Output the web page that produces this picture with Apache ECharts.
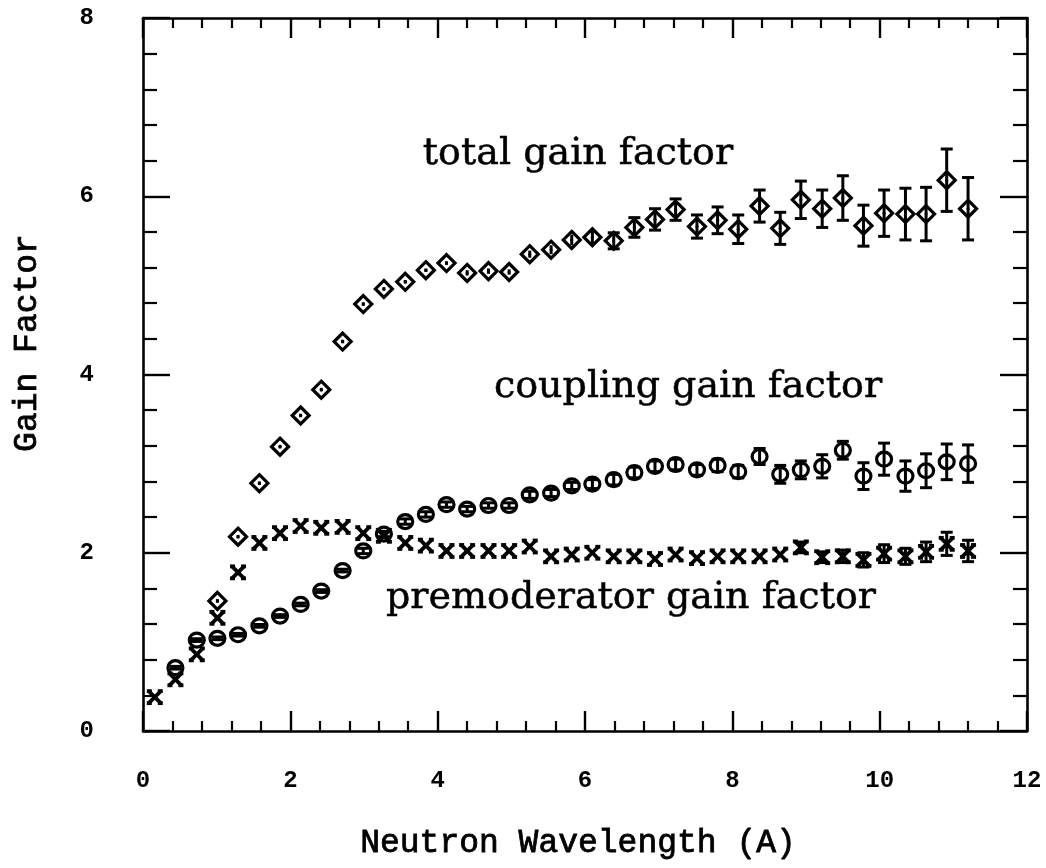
<!DOCTYPE html>
<html>
<head>
<meta charset="utf-8">
<title>Gain Factor</title>
<script src="https://cdn.jsdelivr.net/npm/echarts@6.0.0/dist/echarts.min.js"></script>
<style>
  html, body { margin: 0; padding: 0; background: #fff; }
  #main { width: 1046px; height: 868px; }
</style>
</head>
<body>
<div id="main"></div>
<script>
// wavelength bins (A)
const wavelength = [0.16, 0.44, 0.73, 1.01, 1.29, 1.58, 1.86, 2.14, 2.42, 2.71,
  2.99, 3.27, 3.56, 3.84, 4.12, 4.40, 4.69, 4.97, 5.25, 5.54,
  5.82, 6.10, 6.39, 6.67, 6.95, 7.23, 7.52, 7.80, 8.08, 8.37,
  8.65, 8.93, 9.22, 9.50, 9.78, 10.06, 10.35, 10.63, 10.91, 11.20];

const premodGain = [0.38, 0.58, 0.86, 1.27, 1.78, 2.11, 2.22, 2.30, 2.28, 2.29,
  2.22, 2.19, 2.11, 2.08, 2.02, 2.02, 2.02, 2.02, 2.07, 1.96,
  1.98, 2.00, 1.96, 1.96, 1.93, 1.98, 1.94, 1.96, 1.96, 1.96,
  1.98, 2.06, 1.95, 1.96, 1.92, 1.99, 1.96, 2.01, 2.10, 2.02];
const premodErr = [0, 0, 0, 0, 0, 0, 0, 0, 0, 0,
  0, 0, 0, 0, 0, 0, 0, 0, 0, 0,
  0, 0.02, 0.02, 0.02, 0.02, 0.02, 0.02, 0.02, 0.02, 0.02,
  0.03, 0.06, 0.06, 0.07, 0.08, 0.10, 0.09, 0.11, 0.13, 0.12];

const couplingGain = [null, 0.71, 1.02, 1.04, 1.08, 1.18, 1.29, 1.42, 1.57, 1.80,
  2.02, 2.21, 2.35, 2.43, 2.54, 2.49, 2.53, 2.53, 2.65, 2.67,
  2.75, 2.77, 2.82, 2.90, 2.97, 2.99, 2.93, 2.98, 2.91, 3.08,
  2.88, 2.93, 2.97, 3.15, 2.86, 3.05, 2.86, 2.92, 3.02, 3.00];
const couplingErr = [0, 0.015, 0.015, 0.015, 0.015, 0.015, 0.015, 0.015, 0.015, 0.015,
  0.03, 0.03, 0.03, 0.03, 0.03, 0.03, 0.03, 0.03, 0.04, 0.04,
  0.04, 0.05, 0.06, 0.06, 0.06, 0.06, 0.06, 0.07, 0.07, 0.09,
  0.10, 0.10, 0.13, 0.10, 0.15, 0.18, 0.17, 0.19, 0.20, 0.21];

const totalGain = [null, null, null, 1.46, 2.18, 2.78, 3.19, 3.54, 3.83, 4.37,
  4.79, 4.96, 5.04, 5.17, 5.25, 5.14, 5.16, 5.15, 5.35, 5.40,
  5.51, 5.54, 5.50, 5.65, 5.74, 5.85, 5.66, 5.73, 5.63, 5.89,
  5.64, 5.96, 5.86, 5.98, 5.67, 5.81, 5.80, 5.80, 6.18, 5.86];
const totalErr = [0, 0, 0, 0.02, 0.02, 0.02, 0.02, 0.02, 0.02, 0.02,
  0.02, 0.02, 0.02, 0.02, 0.02, 0.03, 0.03, 0.03, 0.04, 0.05,
  0.06, 0.07, 0.09, 0.11, 0.12, 0.12, 0.13, 0.15, 0.16, 0.18,
  0.18, 0.21, 0.21, 0.25, 0.23, 0.26, 0.29, 0.30, 0.35, 0.35];

const xTickLabels = ['0', '2', '4', '6', '8', '10', '12'];
const yTickLabels = ['0', '2', '4', '6', '8'];

const chart = echarts.init(document.getElementById('main'));

const ink = '#000';

// marker drawing, error bar goes first so it shows through the open symbol
function markerShapes(shape, c) {
  const st = { stroke: ink, lineWidth: 3.2, fill: null };
  const x = c[0], y = c[1];
  if (shape === 'diamond') {
    return [
      { type: 'polygon', shape: { points: [[x, y - 8.5], [x + 8.5, y], [x, y + 8.5], [x - 8.5, y]] }, style: st },
      { type: 'circle', shape: { cx: x, cy: y, r: 1.5 }, style: { fill: ink } }
    ];
  }
  if (shape === 'circle') {
    return [{ type: 'ellipse', shape: { cx: x, cy: y, rx: 7.5, ry: 7 }, style: st }];
  }
  const s = 6;
  const bold = { stroke: ink, lineWidth: 3.8 };
  return [
    { type: 'line', shape: { x1: x - s, y1: y - s, x2: x + s, y2: y + s }, style: bold },
    { type: 'line', shape: { x1: x - s, y1: y + s, x2: x + s, y2: y - s }, style: bold },
    { type: 'line', shape: { x1: x - s - 2, y1: y - s, x2: x - s + 3, y2: y - s }, style: bold },
    { type: 'line', shape: { x1: x + s - 3, y1: y - s, x2: x + s + 2, y2: y - s }, style: bold },
    { type: 'line', shape: { x1: x - s - 2, y1: y + s, x2: x - s + 3, y2: y + s }, style: bold },
    { type: 'line', shape: { x1: x + s - 3, y1: y + s, x2: x + s + 2, y2: y + s }, style: bold }
  ];
}

function gainSeries(name, values, errs, shape, capMin) {
  const data = [];
  values.forEach((v, i) => {
    if (v != null) data.push([wavelength[i], v, errs[i]]);
  });
  return {
    type: 'custom',
    name: name,
    data: data,
    encode: { x: 0, y: 1 },
    renderItem: function (params, api) {
      const xv = api.value(0), yv = api.value(1), e = api.value(2);
      const c = api.coord([xv, yv]);
      const hi = api.coord([xv, yv + e]);
      const lo = api.coord([xv, yv - e]);
      const kids = [];
      const bar = { stroke: ink, lineWidth: 3 };
      if (e > 0) {
        kids.push({ type: 'line', shape: { x1: c[0], y1: hi[1], x2: c[0], y2: lo[1] }, style: bar });
        if (c[1] - hi[1] >= capMin) {
          kids.push({ type: 'line', shape: { x1: c[0] - 6, y1: hi[1], x2: c[0] + 6, y2: hi[1] }, style: bar });
          kids.push({ type: 'line', shape: { x1: c[0] - 6, y1: lo[1], x2: c[0] + 6, y2: lo[1] }, style: bar });
        }
      }
      return { type: 'group', children: kids.concat(markerShapes(shape, c)) };
    }
  };
}

function xAxisBase(pos, showLabels) {
  return {
    type: 'value', position: pos, min: 0, max: 12, interval: 2,
    axisLine: { onZero: false, lineStyle: { color: ink, width: 2.6 } },
    axisTick: { inside: true, length: 20, lineStyle: { color: ink, width: 2.4 } },
    minorTick: { show: true, splitNumber: 5, length: 10, lineStyle: { color: ink, width: 2.2 } },
    splitLine: { show: false },
    axisLabel: {
      show: showLabels, margin: 38,
      fontFamily: 'Liberation Mono', fontWeight: 'bold', fontSize: 24, color: ink,
      formatter: v => xTickLabels[Math.round(v / 2)]
    }
  };
}

function yAxisBase(pos, showLabels) {
  return {
    type: 'value', position: pos, min: 0, max: 8, interval: 2,
    axisLine: { onZero: false, lineStyle: { color: ink, width: 2.6 } },
    axisTick: { inside: true, length: 27, lineStyle: { color: ink, width: 2.4 } },
    minorTick: { show: true, splitNumber: 5, length: 14, lineStyle: { color: ink, width: 2.2 } },
    splitLine: { show: false },
    axisLabel: {
      show: showLabels, margin: 49,
      fontFamily: 'Liberation Mono', fontWeight: 'bold', fontSize: 24, color: ink,
      formatter: v => yTickLabels[Math.round(v / 2)]
    }
  };
}

const serifNote = '38px "DejaVu Serif", "Liberation Serif", serif';
const monoTitle = '33px "Liberation Mono"';
const noteStyle = { font: serifNote, fill: ink, stroke: ink, lineWidth: 0.5, textAlign: 'center', textVerticalAlign: 'middle' };
const titleStyle = { font: monoTitle, fill: ink, stroke: ink, lineWidth: 0.8, textAlign: 'center', textVerticalAlign: 'middle' };

chart.setOption({
  backgroundColor: '#fff',
  animation: false,
  grid: { left: 143, right: 19, top: 18, bottom: 137 },
  xAxis: [xAxisBase('bottom', true), xAxisBase('top', false)],
  yAxis: [yAxisBase('left', true), yAxisBase('right', false)],
  series: [
    gainSeries('premoderator gain factor', premodGain, premodErr, 'cross', 4),
    gainSeries('coupling gain factor', couplingGain, couplingErr, 'circle', 0),
    gainSeries('total gain factor', totalGain, totalErr, 'diamond', 7)
  ],
  graphic: [
    { type: 'text', x: 578, y: 154, style: Object.assign({ text: 'total gain factor' }, noteStyle) },
    { type: 'text', x: 688, y: 387, style: Object.assign({ text: 'coupling gain factor' }, noteStyle) },
    { type: 'text', x: 631, y: 598, style: Object.assign({ text: 'premoderator gain factor' }, noteStyle) },
    { type: 'text', x: 578, y: 843, style: Object.assign({ text: 'Neutron Wavelength (A)' }, titleStyle) },
    { type: 'text', x: 27, y: 343, rotation: Math.PI / 2, style: Object.assign({ text: 'Gain Factor' }, titleStyle) }
  ]
});
</script>
</body>
</html>
